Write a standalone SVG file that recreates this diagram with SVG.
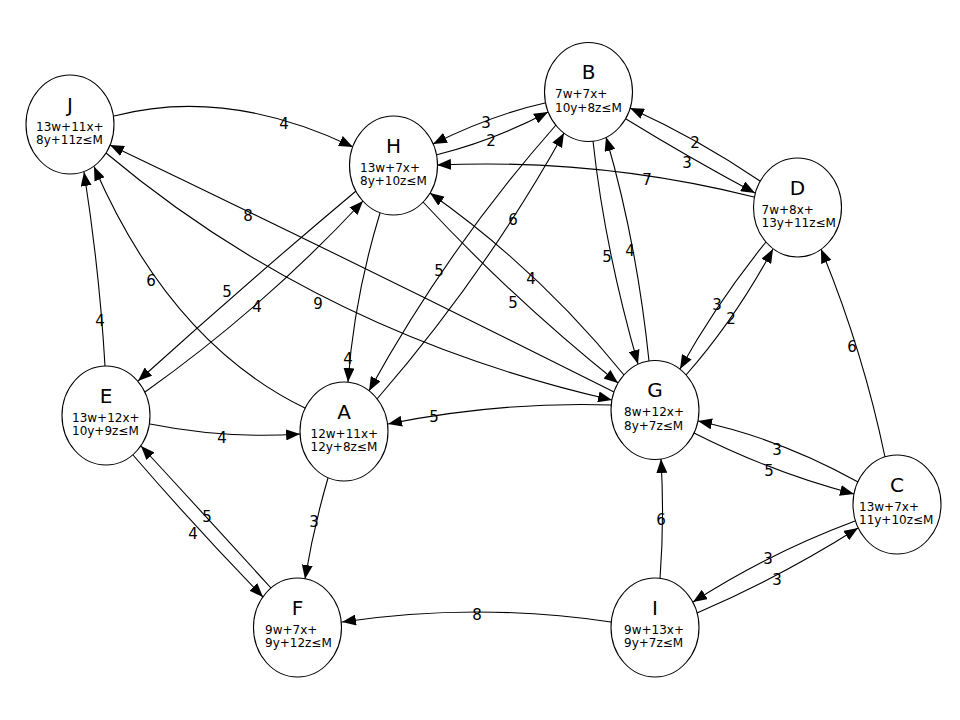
<svg xmlns="http://www.w3.org/2000/svg" width="960" height="720" viewBox="0 0 960 720">
<style>
.node ellipse{fill:#fff;stroke:#000;stroke-width:1.1}
.nl{font-family:"DejaVu Sans","Liberation Sans",sans-serif;font-size:20px;text-anchor:middle;fill:#000}
.eq{font-family:"DejaVu Sans","Liberation Sans",sans-serif;font-size:12px;fill:#000}
.edge path{fill:none;stroke:#000;stroke-width:1.1;marker-end:url(#arr)}
.el{font-family:"DejaVu Sans","Liberation Sans",sans-serif;font-size:15px;text-anchor:middle;fill:#000}
</style>
<defs>
<marker id="arr" markerUnits="userSpaceOnUse" viewBox="0 0 14 11" markerWidth="14" markerHeight="11" refX="14" refY="5.5" orient="auto">
<path d="M0,0 L14,5.5 L0,11 z" fill="#000"/>
</marker>
</defs>
<rect width="960" height="720" fill="#fff"/>
<g id="edges">
<g class="edge" id="e-J-H"><path d="M114,116 Q226.5,86.5 353,147"/><text class="el" x="284" y="129">4</text></g>
<g class="edge" id="e-G-J"><path d="M614,392 Q362,265.5 110,145"/><text class="el" x="248" y="221">8</text></g>
<g class="edge" id="e-J-G"><path d="M106,153 Q321,333.5 612,400"/><text class="el" x="318" y="309">9</text></g>
<g class="edge" id="e-E-J"><path d="M105,366 Q99.5,271 84,172"/><text class="el" x="100" y="326">4</text></g>
<g class="edge" id="e-A-J"><path d="M305,408 Q170.5,342.75 94,166.5"/><text class="el" x="151" y="286">6</text></g>
<g class="edge" id="e-H-E"><path d="M356,191 Q243,286 138,381"/><text class="el" x="227" y="297">5</text></g>
<g class="edge" id="e-E-H"><path d="M145,392 Q264,307.5 363,201"/><text class="el" x="257" y="312">4</text></g>
<g class="edge" id="e-H-A"><path d="M380,213 Q354,298.5 348,382"/><text class="el" x="348" y="364">4</text></g>
<g class="edge" id="e-E-A"><path d="M150,424 Q225,439 300,434"/><text class="el" x="222" y="443">4</text></g>
<g class="edge" id="e-A-F"><path d="M328,478 Q313.5,527.5 305,579"/><text class="el" x="314" y="527">3</text></g>
<g class="edge" id="e-E-F"><path d="M133,455 Q196,528 263,597"/><text class="el" x="193" y="539">4</text></g>
<g class="edge" id="e-F-E"><path d="M271,588 Q206,516.5 141,446"/><text class="el" x="207" y="522">5</text></g>
<g class="edge" id="e-I-F"><path d="M611,622 Q477,602 342,622"/><text class="el" x="477" y="620">8</text></g>
<g class="edge" id="e-I-G"><path d="M660,579 Q664.5,519 661,459"/><text class="el" x="661" y="525">6</text></g>
<g class="edge" id="e-I-C"><path d="M697,613 Q781.5,576.5 858,528"/><text class="el" x="777" y="585">3</text></g>
<g class="edge" id="e-C-I"><path d="M855,521 Q768,553.5 693,602"/><text class="el" x="768" y="564">3</text></g>
<g class="edge" id="e-G-C"><path d="M694,433 Q772,472.5 854,494"/><text class="el" x="769" y="476">5</text></g>
<g class="edge" id="e-C-G"><path d="M858,482 Q780,438.5 698,421"/><text class="el" x="777" y="455">3</text></g>
<g class="edge" id="e-C-D"><path d="M885,457 Q863,351 821,249"/><text class="el" x="852" y="352">6</text></g>
<g class="edge" id="e-G-D"><path d="M686,375 Q734.5,320 773,249"/><text class="el" x="731" y="324">2</text></g>
<g class="edge" id="e-D-G"><path d="M766,242 Q717,302.5 680,369"/><text class="el" x="717" y="310">3</text></g>
<g class="edge" id="e-D-B"><path d="M760,181 Q699,139.5 630,108"/><text class="el" x="695" y="148">2</text></g>
<g class="edge" id="e-B-D"><path d="M626,119 Q689.5,158 755,193"/><text class="el" x="687" y="168">3</text></g>
<g class="edge" id="e-D-H"><path d="M754,197 Q598.5,158 437,165"/><text class="el" x="647" y="185">7</text></g>
<g class="edge" id="e-B-H"><path d="M545,103 Q493,114.5 433,144"/><text class="el" x="486" y="128">3</text></g>
<g class="edge" id="e-H-B"><path d="M436,155 Q494,140.5 548,112"/><text class="el" x="491" y="146">2</text></g>
<g class="edge" id="e-B-G"><path d="M593,141 Q604.5,247.5 638,364"/><text class="el" x="607" y="262">5</text></g>
<g class="edge" id="e-G-B"><path d="M649,361 Q636.5,241 606,137"/><text class="el" x="630" y="256">4</text></g>
<g class="edge" id="e-B-A"><path d="M556,125 Q447.5,248 369,391"/><text class="el" x="439" y="276">5</text></g>
<g class="edge" id="e-A-B"><path d="M377,399 Q485.5,274 564,133"/><text class="el" x="513" y="225">6</text></g>
<g class="edge" id="e-G-H"><path d="M624,375 Q539,270 430,193"/><text class="el" x="531" y="284">4</text></g>
<g class="edge" id="e-H-G"><path d="M423,202 Q513.5,299.5 618,383"/><text class="el" x="513" y="308">5</text></g>
<g class="edge" id="e-G-A"><path d="M611,405 Q499.5,401.5 388,424"/><text class="el" x="434" y="422">5</text></g>
</g>
<g id="J" class="node"><ellipse cx="70" cy="124.5" rx="44" ry="49.5"/><text class="nl" x="70" y="111.5">J</text><text class="eq" x="36" y="130.5">13w+11x+</text><text class="eq" x="36" y="144">8y+11z≤M</text></g>
<g id="H" class="node"><ellipse cx="393.5" cy="165.5" rx="44" ry="49.5"/><text class="nl" x="393.5" y="152.5">H</text><text class="eq" x="360" y="171.5">13w+7x+</text><text class="eq" x="360" y="185">8y+10z≤M</text></g>
<g id="B" class="node"><ellipse cx="588.5" cy="92" rx="44" ry="49.5"/><text class="nl" x="588.5" y="79">B</text><text class="eq" x="555" y="98">7w+7x+</text><text class="eq" x="555" y="111.5">10y+8z≤M</text></g>
<g id="D" class="node"><ellipse cx="797.5" cy="207.5" rx="44" ry="49.5"/><text class="nl" x="797.5" y="194.5">D</text><text class="eq" x="761.5" y="213.5">7w+8x+</text><text class="eq" x="761.5" y="227">13y+11z≤M</text></g>
<g id="E" class="node"><ellipse cx="106" cy="415.5" rx="44" ry="49.5"/><text class="nl" x="106" y="402.5">E</text><text class="eq" x="72" y="421.5">13w+12x+</text><text class="eq" x="72" y="435">10y+9z≤M</text></g>
<g id="A" class="node"><ellipse cx="344" cy="431.5" rx="44" ry="49.5"/><text class="nl" x="344" y="418.5">A</text><text class="eq" x="310.5" y="437.5">12w+11x+</text><text class="eq" x="310.5" y="451">12y+8z≤M</text></g>
<g id="G" class="node"><ellipse cx="655" cy="410" rx="44" ry="49.5"/><text class="nl" x="655" y="397">G</text><text class="eq" x="624" y="416">8w+12x+</text><text class="eq" x="624" y="429.5">8y+7z≤M</text></g>
<g id="C" class="node"><ellipse cx="897" cy="504.5" rx="44" ry="49.5"/><text class="nl" x="897" y="491.5">C</text><text class="eq" x="859" y="510.5">13w+7x+</text><text class="eq" x="859" y="524">11y+10z≤M</text></g>
<g id="F" class="node"><ellipse cx="297.5" cy="627.5" rx="44" ry="49.5"/><text class="nl" x="297.5" y="614.5">F</text><text class="eq" x="265" y="633.5">9w+7x+</text><text class="eq" x="265" y="647">9y+12z≤M</text></g>
<g id="I" class="node"><ellipse cx="655" cy="627.5" rx="44" ry="49.5"/><text class="nl" x="655" y="614.5">I</text><text class="eq" x="624" y="633.5">9w+13x+</text><text class="eq" x="624" y="647">9y+7z≤M</text></g>
</svg>
